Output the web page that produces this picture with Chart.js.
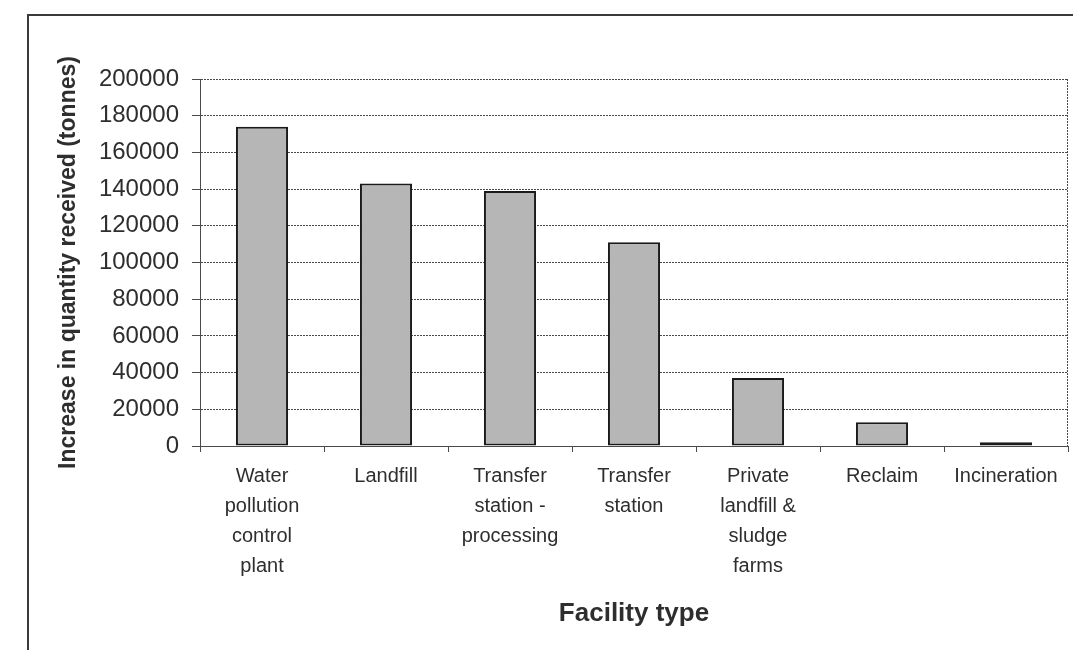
<!DOCTYPE html>
<html>
<head>
<meta charset="utf-8">
<script src="https://cdn.jsdelivr.net/npm/chart.js@4/dist/chart.umd.min.js"></script>
<style>
    html, body { margin: 0; padding: 0; background: #fff; }
    #wrap { position: relative; width: 1073px; height: 650px; }
    #frame {
        position: absolute; left: 27px; top: 14px; right: 0; bottom: 0;
        border-left: 2px solid #3a3a3a; border-top: 2px solid #3a3a3a;
    }
    canvas { position: absolute; left: 0; top: 0; }
</style>
</head>
<body>
<div id="wrap">
    <div id="frame"></div>
    <canvas id="chartFacility" width="1073" height="650"></canvas>
</div>
<script>
// categorias (multi-linea como en el original)
const facilityLabels = [
    ["Water", "pollution", "control", "plant"],
    ["Landfill"],
    ["Transfer", "station -", "processing"],
    ["Transfer", "station"],
    ["Private", "landfill &", "sludge", "farms"],
    ["Reclaim"],
    ["Incineration"]
];
const increaseTonnes = [174000, 143000, 139000, 111000, 37000, 13000, 2000];
const yTicks = [0, 20000, 40000, 60000, 80000, 100000, 120000, 140000, 160000, 180000, 200000];

const textColor = "#2e2e2e";
const lineColor = "#4a4a4a";
const fontFamily = "'Liberation Sans', Arial, sans-serif";

// borde derecho punteado del area del grafico
const rightEdge = {
    id: "rightEdge",
    afterDraw(chart) {
        const { ctx, chartArea } = chart;
        ctx.save();
        ctx.strokeStyle = lineColor;
        ctx.lineWidth = 1;
        ctx.setLineDash([2, 1]);
        ctx.beginPath();
        ctx.moveTo(chartArea.right - 0.5, chartArea.top);
        ctx.lineTo(chartArea.right - 0.5, chartArea.bottom);
        ctx.stroke();
        ctx.restore();
    }
};

function initChart() {
    const canvas = document.getElementById("chartFacility");
    new Chart(canvas, {
        type: "bar",
        data: {
            labels: facilityLabels,
            datasets: [{
                data: increaseTonnes,
                backgroundColor: "#b6b6b6",
                borderColor: "#1a1a1a",
                borderWidth: 2,
                borderSkipped: false,
                barPercentage: 0.42,
                categoryPercentage: 1
            }]
        },
        options: {
            responsive: false,
            animation: false,
            layout: { padding: { top: 79, right: 5, left: 0, bottom: 0 } },
            plugins: { legend: { display: false }, tooltip: { enabled: false } },
            scales: {
                x: {
                    afterFit: (scale) => { scale.height = 204; },
                    grid: {
                        display: true,
                        drawOnChartArea: false,
                        drawTicks: true,
                        tickLength: 6,
                        tickColor: lineColor,
                        offset: true
                    },
                    border: { display: true, color: lineColor, width: 1 },
                    ticks: {
                        color: textColor,
                        padding: 9,
                        maxRotation: 0,
                        autoSkip: false,
                        font: { family: fontFamily, size: 20, lineHeight: 1.5 }
                    },
                    title: {
                        display: true,
                        text: "Facility type",
                        color: textColor,
                        padding: { top: 0, bottom: 21 },
                        font: { family: fontFamily, size: 26, weight: "bold", lineHeight: 1.2 }
                    }
                },
                y: {
                    min: 0,
                    max: 200000,
                    afterFit: (scale) => { scale.width = 200; },
                    afterBuildTicks: (scale) => {
                        scale.ticks = yTicks.map(v => ({ value: v }));
                    },
                    grid: {
                        color: lineColor,
                        lineWidth: 1,
                        tickLength: 8,
                        tickColor: lineColor
                    },
                    border: { display: true, color: lineColor, width: 1, dash: [2, 1] },
                    ticks: {
                        color: textColor,
                        padding: 13,
                        font: { family: fontFamily, size: 24 },
                        callback: (v) => String(v)
                    },
                    title: {
                        display: true,
                        text: "Increase in quantity received (tonnes)",
                        color: textColor,
                        padding: { top: 55, bottom: 0 },
                        font: { family: fontFamily, size: 23, weight: "bold", lineHeight: 1.2 }
                    }
                }
            }
        },
        plugins: [rightEdge]
    });
}

document.addEventListener("DOMContentLoaded", initChart);
</script>
</body>
</html>
